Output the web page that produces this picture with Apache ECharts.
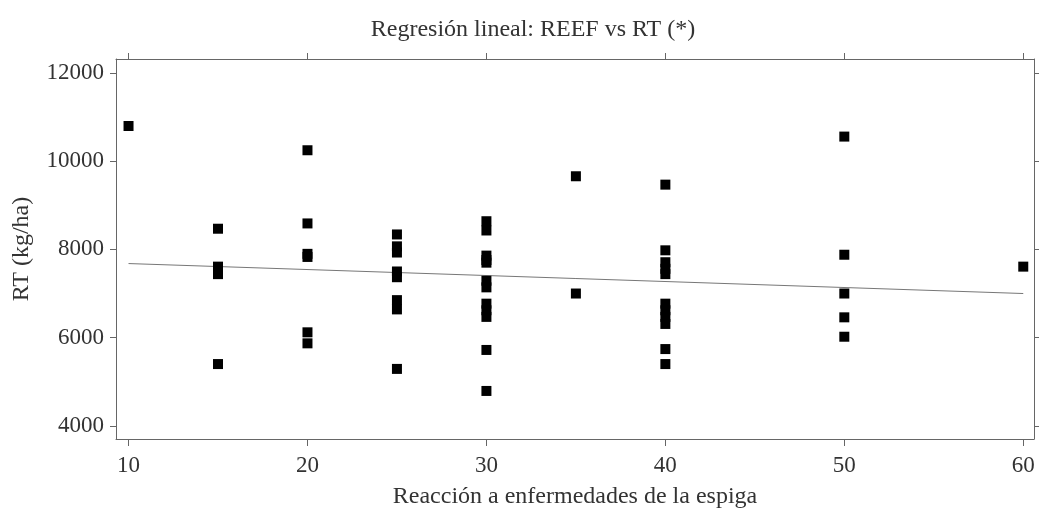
<!DOCTYPE html>
<html><head><meta charset="utf-8">
<script src="https://cdn.jsdelivr.net/npm/echarts@6/dist/echarts.min.js"></script>
<style>html,body{margin:0;padding:0;background:#fff}#c{width:1041px;height:517px}</style>
</head><body><div id="c"></div>
<script>
// Data
const xValues = [10, 15,15,15,15, 20,20,20,20,20,20,
  25,25,25,25,25,25,25,25,
  30,30,30,30,30,30,30,30,30,30,30,30,
  35,35,
  40,40,40,40,40,40,40,40,40,40,40,
  50,50,50,50,50, 60];
const yValues = [10800, 8470,7610,7440,5400, 10250,8590,7900,7830,6120,5870,
  8340,8070,7930,7500,7370,6850,6640,5290,
  8640,8430,7860,7760,7700,7290,7140,6770,6620,6470,5720,4790,
  9660,7000,
  9470,7980,7710,7560,7440,6770,6620,6470,6310,5740,5400,
  10560,7880,7000,6460,6020, 7610];
const regX = [10, 60];
const regY = [7680, 7000];
const xTicks = [10, 20, 30, 40, 50, 60];
const yTicks = [4000, 6000, 8000, 10000, 12000];

const points = xValues.map((x, i) => [x, yValues[i]]);
const line = regX.map((x, i) => [x, regY[i]]);
const font = 'Liberation Serif';
const frame = '#666';
const txt = '#333';
const xr = {min: 9.3, max: 60.6};
const yr = {min: 3700, max: 12320};

const chart = echarts.init(document.getElementById('c'));
chart.setOption({
  animation: false,
  backgroundColor: '#fff',
  title: {
    text: 'Regresión lineal: REEF vs RT (*)',
    left: 528, top: 13, textAlign: 'center',
    textStyle: {fontFamily: font, fontSize: 24, fontWeight: 'normal', color: txt}
  },
  grid: {left: 116, right: 7, top: 59, bottom: 78, show: false},
  xAxis: [{
    type: 'value', position: 'bottom', ...xr,
    name: 'Reacción a enfermedades de la espiga', nameLocation: 'middle', nameGap: 46,
    nameTextStyle: {fontFamily: font, fontSize: 24, color: txt},
    axisLine: {show: true, onZero: false, lineStyle: {color: frame, width: 1}},
    axisTick: {show: true, inside: false, length: 7, customValues: xTicks, lineStyle: {color: frame}},
    axisLabel: {customValues: xTicks, fontFamily: font, fontSize: 23, color: txt, margin: 15,
      formatter: v => String(v)},
    splitLine: {show: false}
  }, {
    type: 'value', position: 'top', ...xr,
    axisLine: {show: true, onZero: false, lineStyle: {color: frame, width: 1}},
    axisTick: {show: true, inside: false, length: 6, customValues: xTicks, lineStyle: {color: frame}},
    axisLabel: {show: false}, splitLine: {show: false}
  }],
  yAxis: [{
    type: 'value', position: 'left', ...yr,
    name: 'RT (kg/ha)', nameLocation: 'middle', nameGap: 82,
    nameTextStyle: {fontFamily: font, fontSize: 24, color: txt},
    axisLine: {show: true, onZero: false, lineStyle: {color: frame, width: 1}},
    axisTick: {show: true, inside: false, length: 6, customValues: yTicks, lineStyle: {color: frame}},
    axisLabel: {customValues: yTicks, fontFamily: font, fontSize: 23, color: txt, margin: 12,
      formatter: v => String(v)},
    splitLine: {show: false}
  }, {
    type: 'value', position: 'right', ...yr,
    axisLine: {show: true, onZero: false, lineStyle: {color: frame, width: 1}},
    axisTick: {show: true, inside: false, length: 5, customValues: yTicks, lineStyle: {color: frame}},
    axisLabel: {show: false}, splitLine: {show: false}
  }],
  series: [{
    type: 'line', data: line, xAxisIndex: 0, yAxisIndex: 0,
    symbol: 'none', lineStyle: {color: '#777', width: 1}, z: 2
  }, {
    type: 'scatter', data: points, xAxisIndex: 0, yAxisIndex: 0,
    symbol: 'rect', symbolSize: 10, itemStyle: {color: '#000', opacity: 1}, z: 3
  }]
});
</script></body></html>
